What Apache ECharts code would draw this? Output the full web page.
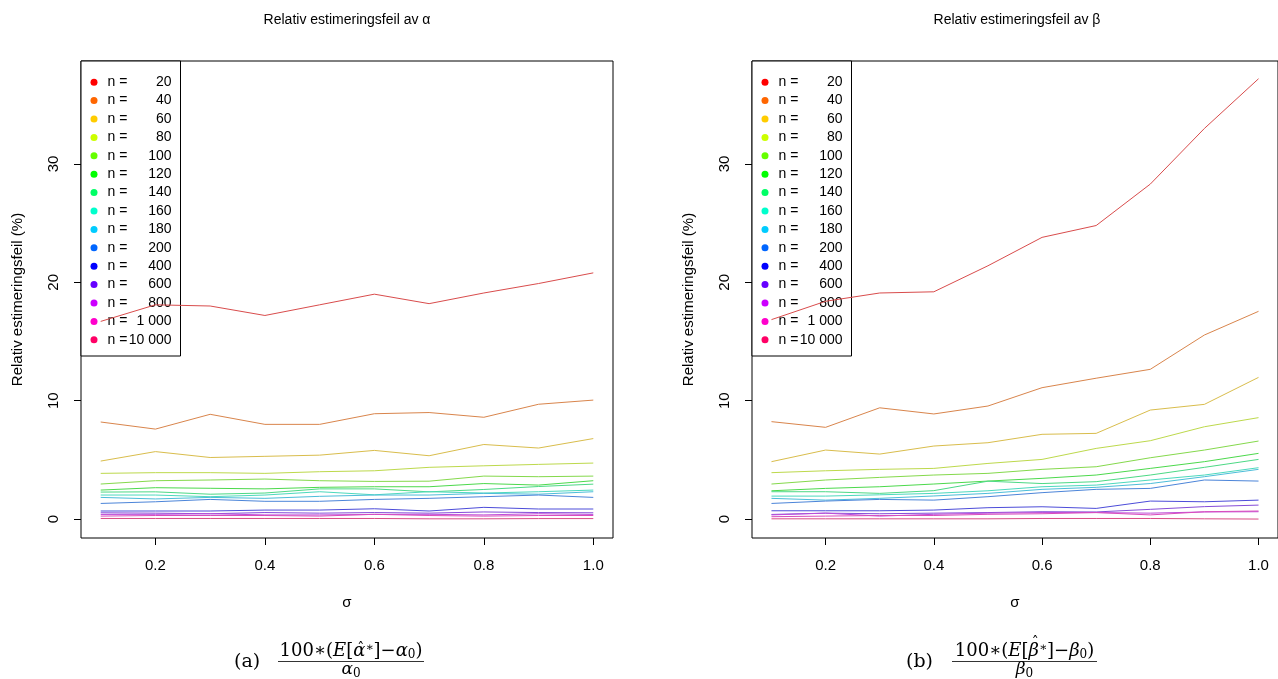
<!DOCTYPE html>
<html><head><meta charset="utf-8">
<script src="https://cdn.jsdelivr.net/npm/echarts@6/dist/echarts.min.js"></script>
<style>html,body{margin:0;padding:0;background:#fff}#c{width:1278px;height:679px}</style>
</head><body><div id="c"></div>
<script>
// ---- data ----
const sigma = [0.1, 0.2, 0.3, 0.4, 0.5, 0.6, 0.7, 0.8, 0.9, 1.0];
const nLabels = ['20', '40', '60', '80', '100', '120', '140', '160', '180', '200', '400', '600', '800', '1 000', '10 000'];
const xTicks = [0.2, 0.4, 0.6, 0.8, 1.0];
const yTicks = [0, 10, 20, 30];

// relative error of alpha (%)
const alpha_n20 = [16.7, 18.1, 18.0, 17.2, 18.1, 19.0, 18.2, 19.1, 19.9, 20.8];
const alpha_n40 = [8.2, 7.6, 8.85, 8.0, 8.0, 8.9, 9.0, 8.6, 9.7, 10.05];
const alpha_n60 = [4.9, 5.7, 5.2, 5.3, 5.4, 5.8, 5.35, 6.3, 6.0, 6.8];
const alpha_n80 = [3.86, 3.92, 3.92, 3.86, 4.0, 4.08, 4.37, 4.5, 4.62, 4.73];
const alpha_n100 = [2.96, 3.24, 3.3, 3.38, 3.24, 3.18, 3.2, 3.63, 3.58, 3.63];
const alpha_n120 = [2.45, 2.65, 2.6, 2.55, 2.68, 2.73, 2.73, 3.0, 2.87, 3.24];
const alpha_n140 = [2.28, 2.3, 2.1, 2.2, 2.55, 2.55, 2.3, 2.5, 2.75, 2.95];
const alpha_n160 = [2.03, 2.03, 1.89, 2.03, 2.31, 2.05, 2.31, 2.2, 2.31, 2.45];
const alpha_n180 = [1.83, 1.7, 1.83, 1.75, 1.92, 2.03, 2.03, 2.17, 2.1, 2.31];
const alpha_n200 = [1.32, 1.46, 1.66, 1.5, 1.5, 1.66, 1.75, 1.89, 2.03, 1.83];
const alpha_n400 = [0.68, 0.68, 0.68, 0.76, 0.76, 0.87, 0.68, 0.99, 0.85, 0.85];
const alpha_n600 = [0.53, 0.5, 0.45, 0.55, 0.5, 0.55, 0.5, 0.6, 0.55, 0.53];
const alpha_n800 = [0.39, 0.4, 0.45, 0.35, 0.35, 0.39, 0.4, 0.35, 0.45, 0.39];
const alpha_n1000 = [0.25, 0.3, 0.3, 0.3, 0.25, 0.4, 0.3, 0.25, 0.3, 0.3];
const alpha_n10000 = [0.05, 0.05, 0.05, 0.05, 0.05, 0.05, 0.02, 0.02, 0.04, 0.04];

// relative error of beta (%)
const beta_n20 = [16.85, 18.4, 19.1, 19.2, 21.4, 23.8, 24.8, 28.3, 33.0, 37.2];
const beta_n40 = [8.23, 7.75, 9.4, 8.88, 9.55, 11.1, 11.9, 12.65, 15.55, 17.55];
const beta_n60 = [4.85, 5.83, 5.49, 6.17, 6.45, 7.16, 7.24, 9.21, 9.69, 11.97];
const beta_n80 = [3.92, 4.08, 4.2, 4.28, 4.7, 5.04, 5.97, 6.62, 7.8, 8.57];
const beta_n100 = [2.96, 3.3, 3.52, 3.72, 3.86, 4.2, 4.42, 5.18, 5.83, 6.59];
const beta_n120 = [2.39, 2.59, 2.73, 2.96, 3.21, 3.44, 3.72, 4.28, 4.85, 5.55];
const beta_n140 = [2.31, 2.31, 2.17, 2.4, 3.2, 3.0, 3.16, 3.72, 4.37, 5.04];
const beta_n160 = [1.94, 1.94, 2.05, 2.17, 2.39, 2.73, 2.87, 3.3, 3.72, 4.34];
const beta_n180 = [1.75, 1.6, 1.75, 1.95, 2.17, 2.51, 2.68, 3.0, 3.58, 4.2];
const beta_n200 = [1.32, 1.52, 1.66, 1.6, 1.89, 2.23, 2.51, 2.59, 3.3, 3.21];
const beta_n400 = [0.7, 0.7, 0.7, 0.76, 0.96, 1.04, 0.9, 1.52, 1.46, 1.6];
const beta_n600 = [0.39, 0.5, 0.45, 0.5, 0.55, 0.62, 0.6, 0.82, 1.05, 1.18];
const beta_n800 = [0.35, 0.5, 0.25, 0.4, 0.5, 0.55, 0.55, 0.5, 0.6, 0.62];
const beta_n1000 = [0.2, 0.25, 0.3, 0.3, 0.4, 0.45, 0.55, 0.35, 0.62, 0.68];
const beta_n10000 = [0.02, 0.02, 0.02, 0.02, 0.02, 0.05, 0.05, 0.05, 0.02, 0.0];

const alphaSeries = [alpha_n20, alpha_n40, alpha_n60, alpha_n80, alpha_n100, alpha_n120, alpha_n140, alpha_n160, alpha_n180, alpha_n200, alpha_n400, alpha_n600, alpha_n800, alpha_n1000, alpha_n10000];
const betaSeries = [beta_n20, beta_n40, beta_n60, beta_n80, beta_n100, beta_n120, beta_n140, beta_n160, beta_n180, beta_n200, beta_n400, beta_n600, beta_n800, beta_n1000, beta_n10000];

// ---- style ----
const colors = ['#FF0000', '#FF6600', '#FFCC00', '#CCFF00', '#66FF00', '#00FF00', '#00FF66', '#00FFCC', '#00CCFF', '#0066FF', '#0000FF', '#6600FF', '#CC00FF', '#FF00CC', '#FF0066'];
function mute(hex) {
  const r = parseInt(hex.slice(1, 3), 16), g = parseInt(hex.slice(3, 5), 16), b = parseInt(hex.slice(5, 7), 16);
  const t = 0.55, gray = 170;
  const f = v => Math.round(v * t + gray * (1 - t));
  return 'rgb(' + f(r) + ',' + f(g) + ',' + f(b) + ')';
}
const SANS = '"Liberation Sans", Arial, sans-serif';
const SERIF = '"DejaVu Serif", "Liberation Serif", serif';
const seriesNames = nLabels.map(l => 'n = ' + l);

function makeSeries(list, idx) {
  return list.map((arr, i) => ({
    name: seriesNames[i],
    type: 'line',
    xAxisIndex: idx, yAxisIndex: idx,
    data: sigma.map((s, j) => [s, arr[j]]),
    symbol: 'none', showSymbol: false,
    itemStyle: { color: colors[i] },
    lineStyle: { width: 1, color: mute(colors[i]) },
    z: 2, silent: true
  }));
}

function xAxisOf(idx) {
  return {
    gridIndex: idx, type: 'value', min: 0.064, max: 1.036, position: 'bottom',
    splitLine: { show: false }, axisLine: { show: false, onZero: false },
    axisTick: { show: true, inside: false, customValues: xTicks, length: 7, lineStyle: { color: '#000', width: 1 } },
    axisLabel: { customValues: xTicks, formatter: v => v.toFixed(1), margin: 20, fontSize: 15, color: '#000', fontFamily: SANS },
    name: 'σ', nameLocation: 'middle', nameGap: 57,
    nameTextStyle: { fontSize: 15, color: '#000', fontFamily: SANS }
  };
}
function yAxisOf(idx) {
  return {
    gridIndex: idx, type: 'value', min: -1.6, max: 38.7, position: 'left',
    splitLine: { show: false }, axisLine: { show: false, onZero: false },
    axisTick: { show: true, inside: false, customValues: yTicks, length: 7, lineStyle: { color: '#000', width: 1 } },
    axisLabel: { customValues: yTicks, rotate: 90, margin: 20, fontSize: 15, color: '#000', fontFamily: SANS },
    name: 'Relativ estimeringsfeil (%)', nameLocation: 'middle', nameGap: 56, nameRotate: 90,
    nameTextStyle: { fontSize: 15, color: '#000', fontFamily: SANS }
  };
}
function legendOf(left) {
  return {
    left: left, top: 61, orient: 'vertical', icon: 'circle', itemWidth: 7, itemHeight: 7, itemGap: 0,
    padding: [12, 9, 7, 9.5], borderColor: '#000', borderWidth: 1, backgroundColor: '#fff', borderRadius: 0,
    selectedMode: false, z: 1,
    data: seriesNames,
    formatter: name => '{s| }{a|n =}{b|' + name.slice(4) + '}',
    textStyle: {
      fontSize: 14, color: '#000', fontFamily: SANS, lineHeight: 18.4,
      rich: {
        s: { width: 5, lineHeight: 18.4, fontSize: 14 },
        a: { width: 20, lineHeight: 18.4, fontSize: 14, fontFamily: SANS, color: '#000' },
        b: { width: 44, align: 'right', lineHeight: 18.4, fontSize: 14, fontFamily: SANS, color: '#000' }
      }
    }
  };
}
const MF = 18, MS = 12;
const mathRich = {
  n: { fontFamily: SERIF, fontSize: MF, color: '#000' },
  i: { fontFamily: SERIF, fontSize: MF, fontStyle: 'italic', color: '#000' },
  di: { fontFamily: SERIF, fontSize: 17, fontStyle: 'italic', color: '#000' },
  sup: { fontFamily: SERIF, fontSize: MS, color: '#000', padding: [0, 0, 7, 0] },
  sub: { fontFamily: SERIF, fontSize: MS, color: '#000', padding: [8, 0, 0, 0] }
};
const mctx = document.createElement('canvas').getContext('2d');
function tw(text, italic, size) {
  mctx.font = (italic ? 'italic ' : '') + size + 'px ' + SERIF;
  return mctx.measureText(text).width;
}
function caption(label, sym, lx, fx1, fx2) {
  const cx = (fx1 + fx2) / 2;
  const toks = [['100∗(', 0, MF], ['E', 1, MF], ['[', 0, MF], [sym, 1, MF], ['∗', 0, MS], [']−', 0, MF], [sym, 1, MF], ['0', 0, MS], [')', 0, MF]];
  const total = toks.reduce((s, t) => s + tw(t[0], t[1], t[2]), 0);
  const start = cx - total / 2;
  const hatX = start + tw('100∗(', 0, MF) + tw('E', 1, MF) + tw('[', 0, MF) + tw(sym, 1, MF) / 2 + 1.5;
  return [
    { type: 'text', x: lx, y: 662, style: { text: label, font: '19px ' + SERIF, fill: '#000', align: 'left', verticalAlign: 'middle' } },
    { type: 'text', x: cx, y: 651, style: { text: '{n|100∗(}{i|E}{n|[}{i|' + sym + '}{sup|∗}{n|]−}{i|' + sym + '}{sub|0}{n|)}', rich: mathRich, align: 'center', verticalAlign: 'middle' } },
    { type: 'text', x: hatX, y: sym === 'β' ? 643 : 649, style: { text: 'ˆ', font: '14px ' + SERIF, fill: '#000', align: 'center', verticalAlign: 'middle' } },
    { type: 'line', shape: { x1: fx1, y1: 661.5, x2: fx2, y2: 661.5 }, style: { stroke: '#000', lineWidth: 0.8 } },
    { type: 'text', x: cx, y: 670, style: { text: '{di|' + sym + '}{sub|0}', rich: mathRich, align: 'center', verticalAlign: 'middle' } }
  ];
}

const option = {
  animation: false,
  backgroundColor: '#fff',
  title: [
    { text: 'Relativ estimeringsfeil av α', left: 347, top: 13, textAlign: 'center', padding: 0, textStyle: { fontSize: 14, fontWeight: 'normal', color: '#000', fontFamily: SANS } },
    { text: 'Relativ estimeringsfeil av β', left: 1017, top: 13, textAlign: 'center', padding: 0, textStyle: { fontSize: 14, fontWeight: 'normal', color: '#000', fontFamily: SANS } }
  ],
  grid: [
    { left: 81, right: 665, top: 61, bottom: 141, show: true, borderColor: '#000', borderWidth: 1, backgroundColor: 'transparent', containLabel: false },
    { left: 752, right: -5, top: 61, bottom: 141, show: true, borderColor: '#000', borderWidth: 1, backgroundColor: 'transparent', containLabel: false }
  ],
  xAxis: [xAxisOf(0), xAxisOf(1)],
  yAxis: [yAxisOf(0), yAxisOf(1)],
  legend: [legendOf(81), legendOf(752)],
  series: makeSeries(alphaSeries, 0).concat(makeSeries(betaSeries, 1)),
  graphic: caption('(a)', 'α', 234, 278, 424).concat(caption('(b)', 'β', 906, 952, 1097))
};
const chart = echarts.init(document.getElementById('c'), null, { renderer: 'canvas' });
chart.setOption(option);
</script>
</body></html>
